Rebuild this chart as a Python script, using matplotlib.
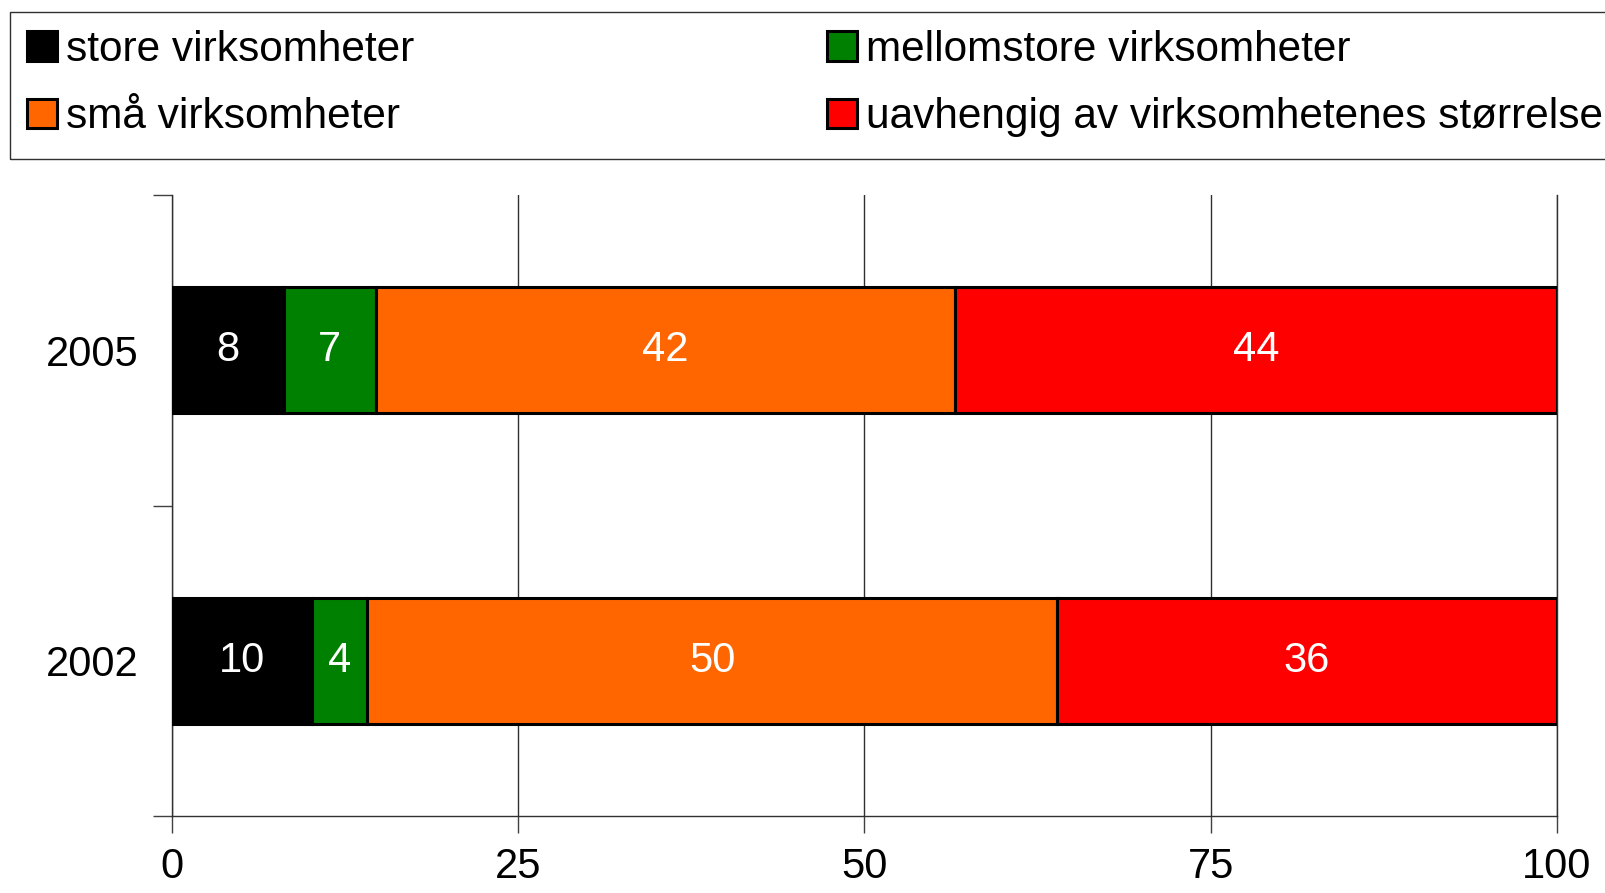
import matplotlib
matplotlib.use("Agg")
import matplotlib.pyplot as plt
from matplotlib.patches import Rectangle
import numpy as np

plt.rcParams['font.family'] = ['Liberation Sans', 'DejaVu Sans']

years = ["2002", "2005"]
series_names = ["store virksomheter", "mellomstore virksomheter",
                "små virksomheter", "uavhengig av virksomhetenes størrelse"]
store = [10.1, 8.1]
mellomstore = [4.0, 6.6]
smaa = [49.8, 41.8]
uavhengig = [36.1, 43.5]
colors = ["#000000", "#008000", "#FF6600", "#FF0000"]
xticks = [0, 25, 50, 75, 100]

W, H = 1606, 893
fig = plt.figure(figsize=(W / 100, H / 100), dpi=100)
ax = fig.add_axes([172 / W, 1 - 816 / H, (1557 - 172) / W, (816 - 195) / H])

FS = 30
y = np.arange(len(years))
left = np.zeros(len(years))
containers = []
for vals, name, c in zip([store, mellomstore, smaa, uavhengig], series_names, colors):
    bc = ax.barh(y, vals, left=left, height=0.405, color=c, edgecolor="black",
                 linewidth=2.2, label=name, zorder=3)
    ax.bar_label(bc, labels=["%.0f" % v for v in vals], label_type="center",
                 color="white", fontsize=FS)
    containers.append(bc)
    left = left + np.array(vals)

ax.set_xlim(0, 100)
ax.set_ylim(-0.5, 1.5)
ax.set_xticks(xticks)
ax.set_xticklabels([str(t) for t in xticks], fontsize=FS)
ax.set_yticks(y)
ax.set_yticklabels(years, fontsize=FS)
ax.set_yticks([-0.5, 0.5, 1.5], minor=True)
ax.tick_params(axis="y", which="major", length=0, pad=24)
ax.tick_params(axis="y", which="minor", length=14, width=1, color="#404040")
ax.tick_params(axis="x", which="major", length=12, width=1, color="#404040", pad=10)
ax.xaxis.grid(True, color="#303030", linewidth=1)
ax.set_axisbelow(True)
ax.spines["top"].set_visible(False)
for s in ["left", "bottom", "right"]:
    ax.spines[s].set_color("#303030")
    ax.spines[s].set_linewidth(1)

# legend frame (extends beyond right edge of figure)
fig.patches.append(Rectangle((10.5 / W, 1 - 159 / H), 1.2, (159 - 12) / H,
                             transform=fig.transFigure, fill=False,
                             edgecolor="#303030", linewidth=1, clip_on=False))

leg_kw = dict(loc="upper left", frameon=False, fontsize=FS + 0.5, borderpad=0,
              borderaxespad=0, handlelength=0.71, handleheight=0.69,
              handletextpad=0.2, labelspacing=0.64)
top = 1 - 30 / H
fig.legend([containers[0], containers[2]], [series_names[0], series_names[2]],
           bbox_to_anchor=(27 / W, top), **leg_kw)
fig.legend([containers[1], containers[3]], [series_names[1], series_names[3]],
           bbox_to_anchor=(827 / W, top), **leg_kw)

fig.savefig("out.png", dpi=100)
